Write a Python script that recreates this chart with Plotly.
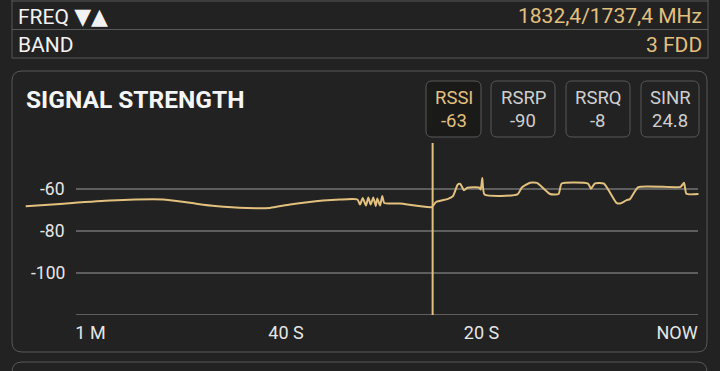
import plotly.graph_objects as go

# ---- data ----
time_s = [-66.63, -63.12, -58.0, -52.58, -49.82, -47.26, -44.02, -41.64, -39.59, -36.21,
          -34.48, -32.69, -32.43, -32.15, -31.82, -31.58, -31.34, -31.07, -30.82, -30.66,
          -30.38, -30.15, -29.94, -28.34, -25.09, -24.65, -23.43, -22.92, -22.43, -22.17,
          -21.79, -21.45, -20.26, -20.08, -19.92, -19.69, -16.32, -15.89, -15.04, -14.32,
          -12.99, -12.12, -11.80, -9.10, -8.80, -8.39, -7.47, -6.19, -5.83, -5.15,
          -4.81, -3.96, 0.36, 0.72, 0.97, 2.20]
rssi_dbm = [-68.2, -67.1, -65.5, -65.0, -66.6, -68.1, -69.1, -69.0, -67.4, -65.5,
            -65.0, -65.0, -67.4, -64.3, -67.9, -64.0, -67.4, -64.0, -68.1, -64.5,
            -67.9, -63.3, -66.7, -66.9, -68.6, -66.2, -64.7, -63.4, -57.9, -57.6,
            -60.6, -59.4, -59.3, -60.2, -54.8, -62.6, -62.6, -59.4, -57.0, -57.1,
            -62.4, -62.4, -57.4, -57.4, -59.9, -57.3, -57.4, -66.6, -66.9, -65.3,
            -64.8, -59.1, -59.0, -57.0, -62.3, -62.4]
cursor_time = -25.0

y_grid = [-60, -80, -100, -120]
y_tick_labels = ["-60", "-80", "-100"]
x_tick_vals = [-60, -40, -20, 0]
x_tick_text = ["1 M", "40 S", "20 S", "NOW"]

metric_names = ["RSSI", "RSRP", "RSRQ", "SINR"]
metric_values = ["-63", "-90", "-8", "24.8"]

info_labels = ["FREQ <span style='font-family:DejaVu Sans;font-size:22px'>▼▲</span>", "BAND"]
info_values = ["1832,4/1737,4 MHz", "3 FDD"]

title_text = "SIGNAL STRENGTH"

# ---- layout helpers (pixel -> paper) ----
W, H = 720, 371
PL, PR, PT, PB = 25, 699, 143, 315
def px(x):
    return (x - PL) / (PR - PL)
def py(y):
    return (PB - y) / (PB - PT)

GOLD = "#e2c07e"
GRID = "#5e5e5e"
BORDER = "#585858"
FONT = "Roboto"

def rrect(x0, y0, x1, y1, r):
    rx = r / (PR - PL)
    ry = r / (PB - PT)
    X0, X1 = px(x0), px(x1)
    Y0, Y1 = py(y0), py(y1)
    return (f"M {X0+rx},{Y0} L {X1-rx},{Y0} Q {X1},{Y0} {X1},{Y0-ry} "
            f"L {X1},{Y1+ry} Q {X1},{Y1} {X1-rx},{Y1} L {X0+rx},{Y1} "
            f"Q {X0},{Y1} {X0},{Y1+ry} L {X0},{Y0-ry} Q {X0},{Y0} {X0+rx},{Y0} Z")

fig = go.Figure()
fig.add_trace(go.Scatter(x=time_s, y=rssi_dbm, mode="lines",
                         line=dict(color=GOLD, width=2, shape="spline", smoothing=0.5),
                         hoverinfo="skip", showlegend=False))

shapes = []
annotations = []

# top info rows
for yy in [1, 29.5, 58]:
    shapes.append(dict(type="line", xref="paper", yref="paper",
                       x0=px(12), x1=px(708), y0=py(yy), y1=py(yy),
                       line=dict(color=BORDER, width=1), layer="below"))
for xx in [12, 708]:
    shapes.append(dict(type="line", xref="paper", yref="paper",
                       x0=px(xx), x1=px(xx), y0=py(0), y1=py(58),
                       line=dict(color=BORDER, width=1), layer="below"))
for i, (lab, val) in enumerate(zip(info_labels, info_values)):
    yc = [16, 45][i]
    annotations.append(dict(xref="paper", yref="paper", x=px(16), y=py(yc),
                            xanchor="left", yanchor="middle", text=lab, showarrow=False,
                            font=dict(family=FONT, size=21, color="#f2f2f2")))
    annotations.append(dict(xref="paper", yref="paper", x=px(704), y=py(yc),
                            xanchor="right", yanchor="middle", text=val, showarrow=False,
                            font=dict(family=FONT, size=21, color=GOLD)))

# main panel
shapes.append(dict(type="path", xref="paper", yref="paper", path=rrect(12, 71, 707, 352, 10),
                   line=dict(color=BORDER, width=1), fillcolor="rgba(0,0,0,0)", layer="below"))
# next panel (partially visible)
shapes.append(dict(type="path", xref="paper", yref="paper", path=rrect(12, 362, 707, 400, 10),
                   line=dict(color=BORDER, width=1), fillcolor="rgba(0,0,0,0)", layer="below"))

annotations.append(dict(xref="paper", yref="paper", x=px(24), y=py(99),
                        xanchor="left", yanchor="middle", text=f"<b>{title_text}</b>",
                        showarrow=False, font=dict(family=FONT, size=24.5, color="#f5f5f5")))

# metric boxes
box_x = [(426, 481), (491, 555), (566, 630), (641, 699)]
for i, (name, val) in enumerate(zip(metric_names, metric_values)):
    x0, x1 = box_x[i]
    active = i == 0
    shapes.append(dict(type="path", xref="paper", yref="paper", path=rrect(x0, 81, x1, 137, 6),
                       line=dict(color=BORDER, width=1),
                       fillcolor="#1a1a19" if active else "rgba(0,0,0,0)", layer="below"))
    col = GOLD if active else "#cfcfcf"
    xc = (x0 + x1) / 2
    annotations.append(dict(xref="paper", yref="paper", x=px(xc), y=py(98),
                            xanchor="center", yanchor="middle", text=name, showarrow=False,
                            font=dict(family=FONT, size=18.5, color=col)))
    annotations.append(dict(xref="paper", yref="paper", x=px(xc), y=py(121),
                            xanchor="center", yanchor="middle", text=val, showarrow=False,
                            font=dict(family=FONT, size=18.5, color=col)))

# gridlines
for g in y_grid:
    shapes.append(dict(type="line", xref="paper", yref="y", x0=px(76), x1=px(698),
                       y0=g, y1=g, line=dict(color=GRID, width=2), layer="below"))
for g, t in zip(y_grid, y_tick_labels):
    annotations.append(dict(xref="paper", yref="y", x=px(66.5), y=g, xanchor="right",
                            yanchor="middle", text=t, showarrow=False,
                            font=dict(family=FONT, size=17.5, color="#e6e6e6")))

# cursor
shapes.append(dict(type="line", xref="x", yref="paper", x0=cursor_time, x1=cursor_time,
                   y0=0, y1=1, line=dict(color=GOLD, width=2), layer="above"))

fig.update_layout(
    width=W, height=H,
    margin=dict(l=PL, r=W - PR, t=PT, b=H - PB),
    paper_bgcolor="#222222", plot_bgcolor="rgba(0,0,0,0)",
    shapes=shapes, annotations=annotations,
    xaxis=dict(range=[-(677 - PL) / 9.775, (PR - 677) / 9.775], showgrid=False,
               zeroline=False, showline=False, tickvals=x_tick_vals, ticktext=x_tick_text,
               ticks="", ticklabelstandoff=5,
               tickfont=dict(family=FONT, size=18, color="#e6e6e6"),
               fixedrange=True),
    yaxis=dict(range=[-120, -120 + (PB - PT) / 2.1], showgrid=False, zeroline=False,
               showline=False, showticklabels=False, fixedrange=True),
    font=dict(family=FONT),
)

fig.write_html(
    "out.html",
    config=dict(displayModeBar=False, staticPlot=True),
    post_script="document.body.style.margin='0';document.body.style.background='#222222';",
)
